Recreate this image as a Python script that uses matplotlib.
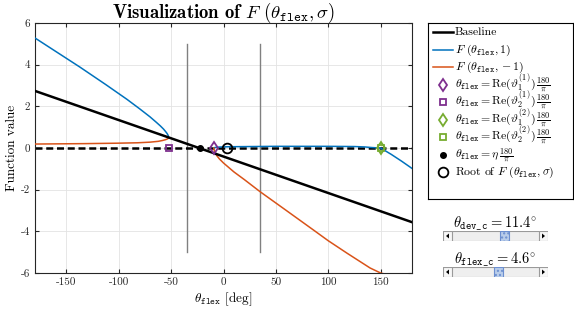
import numpy as np
import matplotlib
matplotlib.use("Agg")
import matplotlib.pyplot as plt
from matplotlib.patches import Rectangle, Polygon

plt.rcParams['mathtext.fontset'] = 'cm'
plt.rcParams['font.family'] = ['cmr10', 'DejaVu Serif']
plt.rcParams['axes.unicode_minus'] = False

# ---- data ----
base_x = [-180, 180]
base_y = [2.74, -3.56]

# F(theta_flex, 1), two real branches
blue_l_x = [-180, -137.3, -112.3, -92.3, -80.3, -70.3, -64.3, -60.3, -57.3, -55.3, -53.8, -52.8, -52.3]
blue_l_y = [5.28, 3.89, 3.04, 2.34, 1.89, 1.50, 1.24, 1.06, 0.91, 0.79, 0.69, 0.60, 0.50]
blue_r_x = [-9.3, -8.5, -6, -2, 5, 50, 100, 125, 135, 142, 150, 160, 170, 180]
blue_r_y = [0.0, 0.02, 0.04, 0.05, 0.06, 0.08, 0.08, 0.07, 0.05, 0.02, 0.0, -0.30, -0.63, -0.98]

# F(theta_flex, -1)
orng_l_x = [-180, -132.3, -102.3, -82.3, -70.3, -62.3, -58.3, -55.3, -53.8, -52.8, -52.3]
orng_l_y = [0.19, 0.21, 0.23, 0.25, 0.28, 0.32, 0.36, 0.40, 0.43, 0.46, 0.50]
orng_r_x = [-9.3, -8.8, -8, -6.5, -4, 0, 10, 20, 35, 60, 86, 100, 118, 140, 150, 158]
orng_r_y = [0.0, -0.12, -0.22, -0.36, -0.52, -0.72, -1.15, -1.52, -2.1, -3.0, -3.94, -4.45,
            -5.05, -5.76, -6.0, -6.1]

vlines_x = [-35, 35]
vlines_y = [-5, 5]

theta11 = -9.3   # Re(vartheta_1^(1))*180/pi
theta21 = -52.3  # Re(vartheta_2^(1))*180/pi
theta12 = 150.0  # Re(vartheta_1^(2))*180/pi
theta22 = 150.0  # Re(vartheta_2^(2))*180/pi
eta_deg = -22.5
root_deg = 3.0

xticks = [-150, -100, -50, 0, 50, 100, 150]
yticks = [-6, -4, -2, 0, 2, 4, 6]

slider_labels = [r'$\theta_{\mathtt{dev\_c}}=11.4^{\circ}$', r'$\theta_{\mathtt{flex\_c}}=4.6^{\circ}$']
slider_frac = [0.615, 0.54]

blue = '#0072BD'
orange = '#D95319'
purple = '#7E2F8E'
green = '#77AC30'

W, H = 574, 313
fig = plt.figure(figsize=(W / 100, H / 100), dpi=100)
ax = fig.add_axes([35 / W, 1 - 273 / H, (412 - 35) / W, (273 - 23) / H])

fl = r'\theta_{\mathtt{flex}}'
ax.plot(base_x, base_y, color='k', lw=1.8, label='Baseline', zorder=4)
ax.plot(blue_l_x, blue_l_y, color=blue, lw=1.1, label=r'$F\ (%s,1)$' % fl, zorder=3)
ax.plot(blue_r_x, blue_r_y, color=blue, lw=1.1, zorder=3)
ax.plot(orng_l_x, orng_l_y, color=orange, lw=1.1, label=r'$F\ (%s,-1)$' % fl, zorder=3)
ax.plot(orng_r_x, orng_r_y, color=orange, lw=1.1, zorder=3)
ax.axhline(0, color='k', lw=1.8, ls=(0, (2.8, 1.5)), zorder=2)
for vx in vlines_x:
    ax.plot([vx, vx], vlines_y, color='#808080', lw=1.0, zorder=1)

ms = 6
ax.plot(theta11, 0, 'd', ms=ms, mfc='none', mec=purple, mew=1.3, zorder=6,
        label=r'$%s=\mathrm{Re}(\vartheta_1^{(1)})\,\frac{180}{\pi}$' % fl)
ax.plot(theta21, 0, 's', ms=5, mfc='none', mec=purple, mew=1.3, zorder=6,
        label=r'$%s=\mathrm{Re}(\vartheta_2^{(1)})\,\frac{180}{\pi}$' % fl)
ax.plot(theta12, 0, 'd', ms=ms, mfc='none', mec=green, mew=1.3, zorder=6,
        label=r'$%s=\mathrm{Re}(\vartheta_1^{(2)})\,\frac{180}{\pi}$' % fl)
ax.plot(theta22, 0, 's', ms=5, mfc='none', mec=green, mew=1.3, zorder=6,
        label=r'$%s=\mathrm{Re}(\vartheta_2^{(2)})\,\frac{180}{\pi}$' % fl)
ax.plot(eta_deg, 0, 'o', ms=4, mfc='k', mec='k', zorder=6,
        label=r'$%s=\eta\,\frac{180}{\pi}$' % fl)
ax.plot(root_deg, 0, 'o', ms=7, mfc='none', mec='k', mew=1.3, zorder=6,
        label=r'Root of $F\ (%s,\sigma)$' % fl)

ax.set_xlim(-180, 180)
ax.set_ylim(-6, 6)
ax.set_xticks(xticks, labels=[str(v) for v in xticks])
ax.set_yticks(yticks, labels=[str(v) for v in yticks])
ax.tick_params(direction='in', top=True, right=True, labelsize=8, length=3,
               color='#262626', labelcolor='#262626')
ax.grid(True, color='#e3e3e3', lw=0.6)
ax.set_axisbelow(True)
for s in ax.spines.values():
    s.set_color('#262626')
    s.set_linewidth(0.8)

ax.set_xlabel(r'$%s$ [deg]' % fl, fontsize=9.5, labelpad=2)
ax.set_ylabel('Function value', fontsize=9.5, labelpad=2)
ax.set_title(r'Visualization of $F\ (%s,\sigma)$' % fl, fontsize=13.5,
             fontfamily=['cmb10', 'DejaVu Serif'], fontweight='bold', pad=4)

# ---- legend, laid out row by row (MATLAB packs the rows tighter than fig.legend) ----
lx0, ly0, lw_ = 428, 23, 145
pitch = 17.5
lh_ = 9 * pitch + 18
lax = fig.add_axes([lx0 / W, 1 - (ly0 + lh_) / H, lw_ / W, lh_ / H])
lax.set_xlim(0, lw_)
lax.set_ylim(lh_, 0)
lax.set_xticks([])
lax.set_yticks([])
for s in lax.spines.values():
    s.set_color('k')
    s.set_linewidth(0.8)
handles, labels = ax.get_legend_handles_labels()
for i, (h, lab) in enumerate(zip(handles, labels)):
    yc = 9 + i * pitch
    if h.get_linestyle() not in ('None', ''):
        lax.plot([5, 25], [yc, yc], color=h.get_color(), lw=h.get_linewidth())
    else:
        lax.plot(14.5, yc, marker=h.get_marker(), ms=h.get_markersize(),
                 mfc=h.get_markerfacecolor(), mec=h.get_markeredgecolor(),
                 mew=h.get_markeredgewidth(), ls='None')
    lax.text(27, yc + 3.3, lab, ha='left', va='baseline', fontsize=8.5)

# ---- slider widgets ----
sl_top = [231, 267]
sx0, sx1 = 443, 548
for lab, frac, top in zip(slider_labels, slider_frac, sl_top):
    sax = fig.add_axes([sx0 / W, 1 - (top + 10) / H, (sx1 - sx0) / W, 10 / H])
    sax.set_xlim(0, sx1 - sx0)
    sax.set_ylim(0, 10)
    sax.axis('off')
    w = sx1 - sx0
    sax.add_patch(Rectangle((0, 0), w, 10, fc='#efefef', ec='#9a9a9a', lw=0.8))
    for bx in (0, w - 9):
        sax.add_patch(Rectangle((bx, 0), 9, 10, fc='#f7f7f7', ec='#9a9a9a', lw=0.8))
    sax.add_patch(Polygon([[6, 2.5], [6, 7.5], [3, 5]], closed=True, fc='k', ec='none'))
    sax.add_patch(Polygon([[w - 6, 2.5], [w - 6, 7.5], [w - 3, 5]], closed=True, fc='k', ec='none'))
    tw = 9
    tc = 9 + frac * (w - 18 - tw) + tw / 2
    sax.add_patch(Rectangle((tc - tw / 2, 0.3), tw, 9.4, fc='#b9cdea', ec='#6c8fd0', lw=0.8,
                            hatch='....'))
    fig.text((sx0 + sx1) / 2 / W, 1 - (top - 8) / H, lab, ha='center', va='center', fontsize=10.5)

fig.savefig('out.png', dpi=100)
